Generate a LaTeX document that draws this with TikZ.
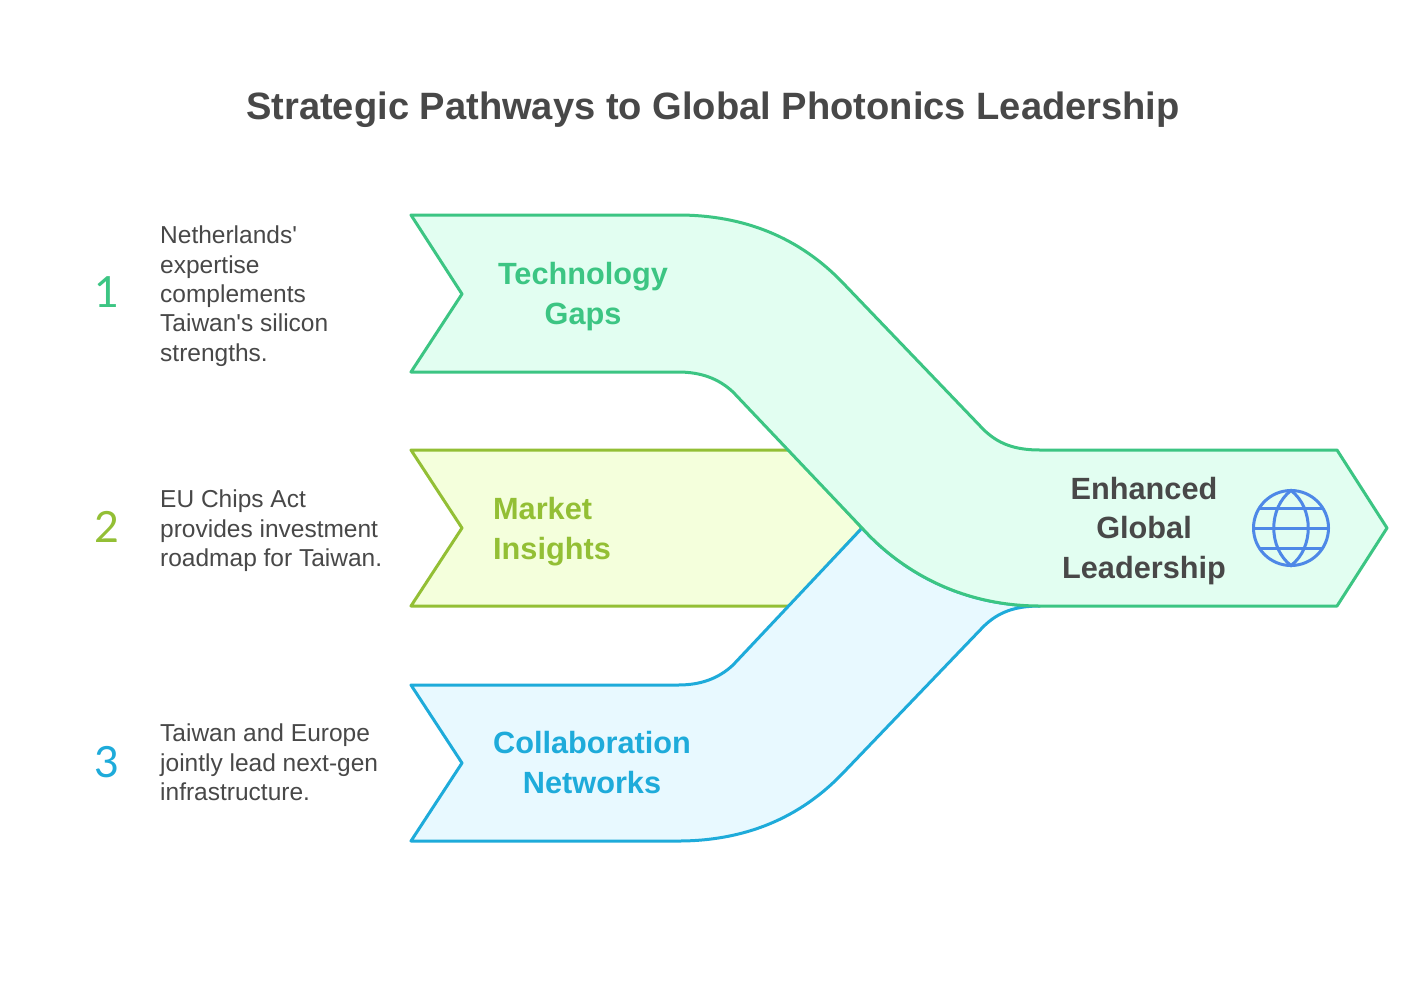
\documentclass[tikz,border=0pt]{standalone}
\usepackage{fontspec}
\setmainfont{Liberation Sans}[Ligatures=TeXOff]
\newfontfamily\numfont{Lato}
\definecolor{txt}{HTML}{484848}
\definecolor{gr}{HTML}{3CC583}
\definecolor{grf}{HTML}{E2FEF1}
\definecolor{ol}{HTML}{93BF35}
\definecolor{olf}{HTML}{F4FFDC}
\definecolor{bl}{HTML}{1EABDA}
\definecolor{blf}{HTML}{E8F9FF}
\definecolor{gb}{HTML}{4E88E7}
\tikzset{
 band/.style={line width=3pt,line join=round},
 lab/.style={font=\fontsize{30.7}{39.2}\selectfont\bfseries,align=center,inner sep=0pt,anchor=base},
 desc/.style={font=\fontsize{24.5}{29.3}\selectfont,align=left,inner sep=0pt,anchor=north west,text=txt},
 num/.style={font=\fontsize{43}{43}\numfont,inner sep=0pt},
}
\begin{document}
\begin{tikzpicture}[x=1pt,y=-1pt]
\useasboundingbox (0,0) rectangle (1426,997);
\fill[white] (0,0) rectangle (1426,997);
\node[inner sep=0pt,text=txt,font=\fontsize{38.1}{46}\selectfont\bfseries] (title) at (713,109.5) {Strategic Pathways to Global Photonics Leadership};
% bands
\draw[band,draw=ol,fill=olf] (411,450) -- (790,450) -- (862,528) -- (790,606) -- (411,606) -- (462,528) -- cycle;
\draw[band,draw=bl,fill=blf] (411,685) -- (678,685) .. controls (700,685) and (718,679) .. (733,665) -- (862,528) .. controls (900,570) and (960,606) .. (1040,606) .. controls (1015,606) and (998,612) .. (983,627) -- (843,773) .. controls (800,818) and (745,841) .. (678,841) -- (411,841) -- (462,763) -- cycle;
\draw[band,draw=gr,fill=grf] (411,215) -- (678,215) .. controls (745,215) and (800,238) .. (843,283) -- (983,429) .. controls (998,444) and (1015,450) .. (1040,450) -- (1337,450) -- (1387,528) -- (1337,606) -- (1040,606) .. controls (960,606) and (900,570) .. (862,528) -- (733,392) .. controls (718,378) and (700,372) .. (678,372) -- (411,372) -- (462,294) -- cycle;
% band labels
\node[lab,text=gr] (l1) at (583,324) {Technology\\Gaps};
\node[lab,text=ol,align=left] (l2) at (552,559) {Market\\Insights};
\node[lab,text=bl] (l3) at (592,793) {Collaboration\\Networks};
\node[lab,text=txt] (l4) at (1144,578) {Enhanced\\Global\\Leadership};
% numbers
\node[num,text=gr] (n1) at (107,292) {1};
\node[num,text=ol] (n2) at (107,527) {2};
\node[num,text=bl] (n3) at (107,762) {3};
% descriptions
\node[desc] (d1) at (160,226) {Netherlands'\\expertise\\complements\\Taiwan's silicon\\strengths.};
\node[desc] (d2) at (160,490) {EU Chips Act\\provides investment\\roadmap for Taiwan.};
\node[desc] (d3) at (160,724) {Taiwan and Europe\\jointly lead next-gen\\infrastructure.};
% globe
\begin{scope}[shift={(1291,528)},draw=gb,line width=3pt]
\draw (0,0) circle (37.5);
\draw (0,-37.5) .. controls (-23,-20) and (-23,20) .. (0,37.5) .. controls (23,20) and (23,-20) .. (0,-37.5) -- cycle;
\draw (-37.5,0) -- (37.5,0);
\draw (-31,-20) -- (31,-20);
\draw (-31,20) -- (31,20);
\end{scope}
\end{tikzpicture}
\end{document}
